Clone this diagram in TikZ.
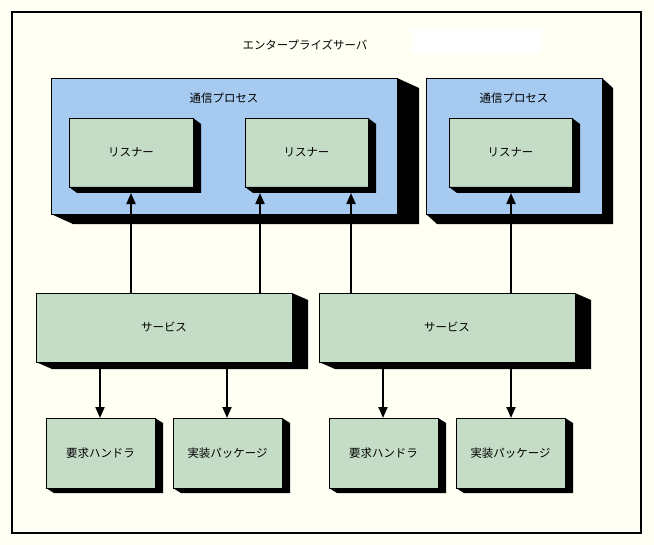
\documentclass[tikz,border=0pt]{standalone}
\usepackage{fontspec}
\newfontfamily\jpfont{Noto Sans CJK JP}
\usetikzlibrary{calc,arrows.meta}
\definecolor{bgcream}{HTML}{FFFFF4}
\definecolor{procblue}{HTML}{A6CAF0}
\definecolor{boxgreen}{HTML}{C5DDC6}
\newcommand\boxshadow[3]{%
  \fill[black] (#1.north east) -- ($(#1.north east)+(#2,#3)$) -- ($(#1.south east)+(#2,#3)$) -- ($(#1.south west)+(#2,#3)$) -- (#1.south west) -- (#1.south east) -- cycle;}
\begin{document}
\begin{tikzpicture}[x=1bp,y=-1bp,
  every node/.style={font=\jpfont\fontsize{11.5}{13}\selectfont},
  boxbase/.style={draw=black,line width=0.9bp,inner sep=0pt,outer sep=0pt,anchor=north west},
  procbox/.style={boxbase,fill=procblue},
  greenbox/.style={boxbase,fill=boxgreen},
  conn/.style={line width=2bp,-{Triangle[width=9bp,length=11bp]}},
  txt/.style={inner sep=0pt}]
\fill[bgcream] (0,0) rectangle (654,545);
\useasboundingbox (0,0) rectangle (654,545);
\draw[line width=2bp] (12,12) rectangle (641,533);
\fill[white] (412,29) rectangle (542,53);
\node[txt] (title) at (305,45) {エンタープライズサーバ};
% process boxes
\node[procbox,minimum width=346bp,minimum height=136bp] (P1) at (51,78) {};
\boxshadow{P1}{22}{10}
\node[procbox,minimum width=176bp,minimum height=136bp] (P2) at (426,78) {};
\boxshadow{P2}{11}{10}
\node[txt] (P1lab) at ($(P1.north)+(0,20)$) {通信プロセス};
\node[txt] (P2lab) at ($(P2.north)+(0,20)$) {通信プロセス};
% listeners
\node[greenbox,minimum width=124bp,minimum height=69bp] (L1) at (69,118) {リスナー};
\boxshadow{L1}{8}{6}
\node[greenbox,minimum width=123bp,minimum height=69bp] (L2) at (245,118) {リスナー};
\boxshadow{L2}{8}{6}
\node[greenbox,minimum width=123bp,minimum height=69bp] (L3) at (449,118) {リスナー};
\boxshadow{L3}{8}{6}
% services
\node[greenbox,minimum width=256bp,minimum height=69bp] (S1) at (36,293) {サービス};
\boxshadow{S1}{16}{7}
\node[greenbox,minimum width=256bp,minimum height=69bp] (S2) at (319,293) {サービス};
\boxshadow{S2}{16}{7}
% bottom boxes
\node[greenbox,minimum width=109bp,minimum height=70bp] (B1) at (46,418) {要求ハンドラ};
\boxshadow{B1}{8}{5}
\node[greenbox,minimum width=109bp,minimum height=70bp] (B2) at (173,418) {実装パッケージ};
\boxshadow{B2}{8}{5}
\node[greenbox,minimum width=109bp,minimum height=70bp] (B3) at (329,418) {要求ハンドラ};
\boxshadow{B3}{8}{5}
\node[greenbox,minimum width=109bp,minimum height=70bp] (B4) at (456,418) {実装パッケージ};
\boxshadow{B4}{8}{5}
% connectors
\coordinate (l1e) at ($(L1.south)+(0,6)$);
\coordinate (l2a) at ($(L2.south west)+(15,6)$);
\coordinate (l2b) at ($(L2.south west)+(106,6)$);
\coordinate (l3e) at ($(L3.south)+(0.5,6)$);
\coordinate (b1e) at ($(B1.north)+(-0.5,0)$);
\coordinate (b2e) at ($(B2.north)+(-0.5,0)$);
\coordinate (b3e) at ($(B3.north)+(-0.5,0)$);
\coordinate (b4e) at ($(B4.north)+(0.5,0)$);
\draw[conn] (S1.north -| l1e) -- (l1e);
\draw[conn] (S1.north -| l2a) -- (l2a);
\draw[conn] (S2.north -| l2b) -- (l2b);
\draw[conn] (S2.north -| l3e) -- (l3e);
\draw[conn] (S1.south -| b1e) -- (b1e);
\draw[conn] (S1.south -| b2e) -- (b2e);
\draw[conn] (S2.south -| b3e) -- (b3e);
\draw[conn] (S2.south -| b4e) -- (b4e);
\end{tikzpicture}
\end{document}
